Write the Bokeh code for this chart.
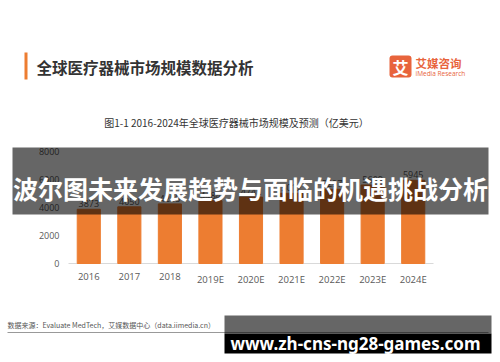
from bokeh.plotting import figure
from bokeh.models import Range1d, Label, BoxAnnotation, ColumnDataSource
from bokeh.core.properties import value
from bokeh.embed import file_html
from bokeh.resources import INLINE

# ---- data ----
years = ["2016", "2017", "2018", "2019E", "2020E", "2021E", "2022E", "2023E", "2024E"]
market = [3873, 4050, 4258, 4484, 4742, 5012, 5297, 5609, 5945]
y_ticks = [0, 2000, 4000, 6000, 8000]
y_tick_labels = [str(t) for t in y_ticks]
value_labels = [str(v) for v in market]

title_text = "全球医疗器械市场规模数据分析"
subtitle_text = "图1-1 2016-2024年全球医疗器械市场规模及预测（亿美元）"
banner_text = "波尔图未来发展趋势与面临的机遇挑战分析"
source_text = "数据来源：Evaluate MedTech，艾媒数据中心（data.iimedia.cn）"
watermark_text = "www.zh-cns-ng28-games.com"

# ---- layout (canvas pixels) ----
W, H = 500, 362
PLOT_L, PLOT_R = 68, 433        # x extent of the category band
ZERO_Y, TOP_Y = 263, 151        # pixel rows of 0 and of the top tick
n = len(years)
cat_px = (PLOT_R - PLOT_L) / n
val_per_px = y_ticks[-1] / (ZERO_Y - TOP_Y)

x_start = -PLOT_L / cat_px - 0.5
x_end = (W - PLOT_L) / cat_px - 0.5
y_start = -(H - ZERO_Y) * val_per_px
y_end = ZERO_Y * val_per_px

CJK = "Noto Sans CJK SC"
ORANGE = "#ED7D31"
GREY_TXT = "#595959"

p = figure(width=W, height=H,
           x_range=Range1d(x_start, x_end), y_range=Range1d(y_start, y_end),
           x_axis_location=None, y_axis_location=None,
           output_backend="svg", toolbar_location=None, min_border=0)
p.outline_line_color = None
p.background_fill_color = "white"
p.border_fill_color = "white"
p.grid.visible = False

idx = list(range(n))
src = ColumnDataSource(dict(x=idx, top=market, lab=value_labels, cat=years,
                            zero=[0] * n))
# axis line
p.segment(x0=[-0.5], y0=[0], x1=[n - 0.5], y1=[0], line_color="#d9d9d9", line_width=1)
# bars
p.vbar(x="x", top="top", width=0.57, color=ORANGE, source=src)
# value labels
p.text(x="x", y="top", text="lab", source=src, text_align="center", text_baseline="bottom",
       y_offset=-2, text_font_size="9px", text_color=GREY_TXT, text_font=value("Open Sans"))
# category labels (x axis)
p.text(x="x", y="zero", text="cat", source=src, text_align="center", text_baseline="top",
       y_offset=9, text_font_size="9.5px", text_color=GREY_TXT, text_font=value("Open Sans"))
# value ticks (y axis)
p.text(x=[-0.5] * len(y_ticks), y=y_ticks, text=y_tick_labels, text_align="right",
       text_baseline="middle", x_offset=-9, text_font_size="9px", text_color=GREY_TXT,
       text_font=value("Open Sans"))


def sx(X):
    return X


def sy(Y):
    return H - Y


def box(x0, y0, x1, y1, color, alpha=1.0, radius=0):
    b = BoxAnnotation(left=sx(x0), right=sx(x1), top=sy(y0), bottom=sy(y1),
                      left_units="screen", right_units="screen",
                      top_units="screen", bottom_units="screen",
                      fill_color=color, fill_alpha=alpha, line_color=None,
                      border_radius=radius, level="annotation")
    p.add_layout(b)


def label(X, Y, text, size, color, font=CJK, style="normal", align="left", baseline="middle"):
    lb = Label(x=sx(X), y=sy(Y), x_units="screen", y_units="screen", text=text,
               text_font_size=f"{size}px", text_color=color, text_font=font,
               text_font_style=style, text_align=align, text_baseline=baseline)
    p.add_layout(lb)


# title block
box(24, 52, 27, 79, ORANGE)
label(36, 66, title_text, 15.5, "#333333", style="bold")

# logo
box(389, 55, 411, 77, "#E8643C", radius=3)
label(400, 66, "艾", 16, "white", style="bold", align="center")
label(415, 62, "艾媒咨询", 11.5, "#E8643C", style="bold")
label(415, 73, "iMedia Research", 6.5, "#E8643C", font="Open Sans")

# subtitle
label(236, 122, subtitle_text, 10, "#333333", align="center")

# source line + text
label(7, 324, source_text, 7, "#555555")
box(7, 331.5, 488, 332.5, "#999999")

# banner
box(12, 147, 488, 214, "black", alpha=0.6)
label(250, 187, banner_text, 25, "white", style="bold", align="center")

# watermark
box(224, 315, 491, 333, "black", alpha=0.6)
box(224, 333, 491, 353, "black")
label(355, 343, watermark_text, 17, "white", font="Noto Sans", style="bold", align="center")

open("out.html", "w").write(file_html(p, INLINE))
